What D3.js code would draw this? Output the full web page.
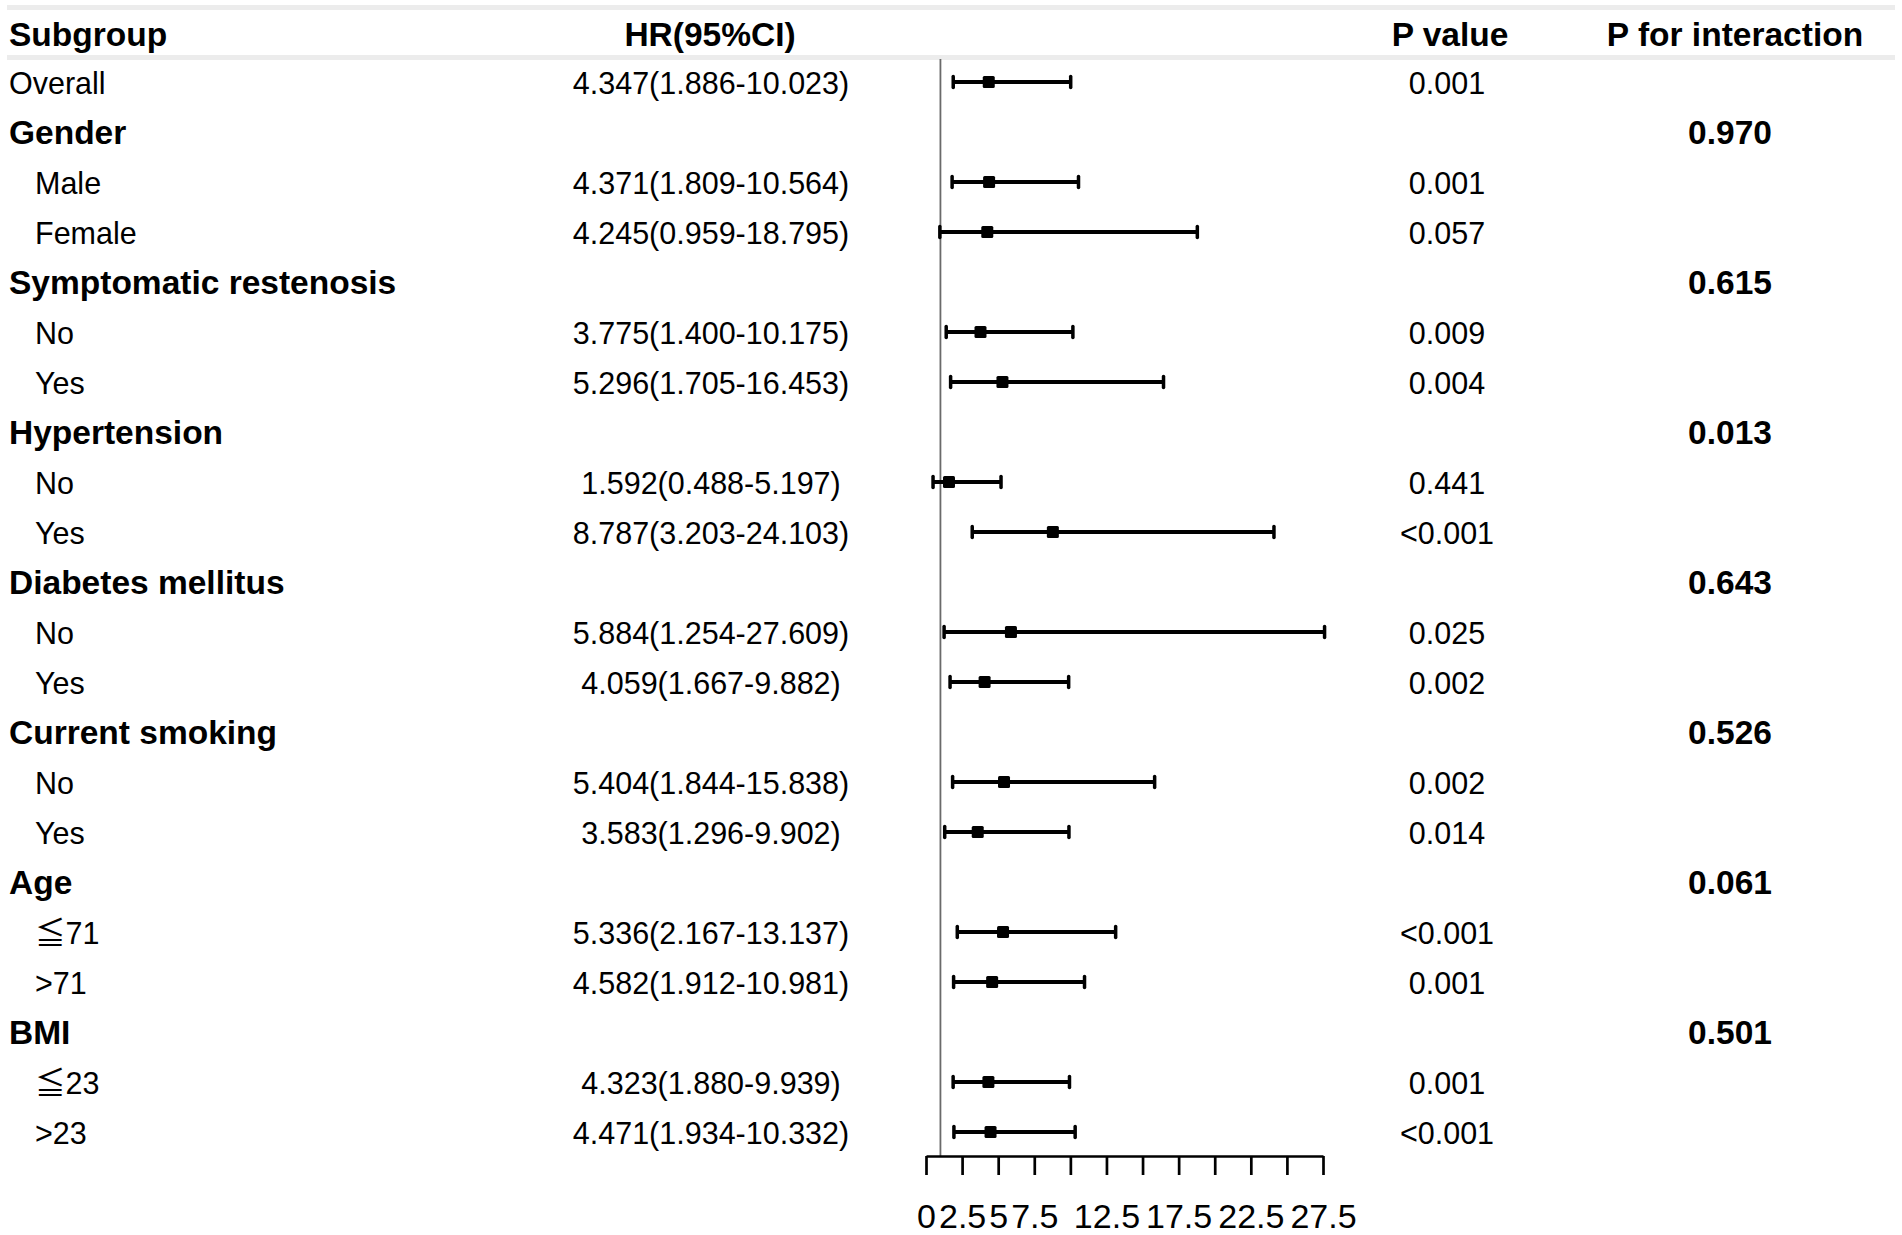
<!DOCTYPE html>
<html>
<head>
<meta charset="utf-8">
<script src="https://cdn.jsdelivr.net/npm/d3@7"></script>
<style>
  html, body { margin: 0; padding: 0; background: #fff; }
  svg { display: block; }
  text { font-family: "Liberation Sans", Arial, "Noto Sans CJK JP", sans-serif; fill: #000; }
</style>
</head>
<body>
<svg id="chart" width="1902" height="1235"></svg>
<script>
// ---------- data ----------
const subgroups = ["Overall","Gender","Male","Female","Symptomatic restenosis","No","Yes",
  "Hypertension","No","Yes","Diabetes mellitus","No","Yes","Current smoking","No","Yes",
  "Age","≦71",">71","BMI","≦23",">23"];
const isGroup = [false,true,false,false,true,false,false,true,false,false,true,false,false,
  true,false,false,true,false,false,true,false,false];
const hr = [4.347,null,4.371,4.245,null,3.775,5.296,null,1.592,8.787,null,5.884,4.059,null,
  5.404,3.583,null,5.336,4.582,null,4.323,4.471];
const lower = [1.886,null,1.809,0.959,null,1.400,1.705,null,0.488,3.203,null,1.254,1.667,null,
  1.844,1.296,null,2.167,1.912,null,1.880,1.934];
const upper = [10.023,null,10.564,18.795,null,10.175,16.453,null,5.197,24.103,null,27.609,9.882,null,
  15.838,9.902,null,13.137,10.981,null,9.939,10.332];
const pValue = ["0.001","","0.001","0.057","","0.009","0.004","","0.441","<0.001","","0.025","0.002","",
  "0.002","0.014","","<0.001","0.001","","0.001","<0.001"];
const pInteraction = ["","0.970","","","0.615","","","0.013","","","0.643","","","0.526","","","0.061","","","0.501","",""];
const headers = ["Subgroup","HR(95%CI)","P value","P for interaction"];
const tickValues = [0,2.5,5,7.5,10,12.5,15,17.5,20,22.5,25,27.5];
const tickLabelsShown = [0,2.5,5,7.5,12.5,17.5,22.5,27.5];
const refValue = 1;

// ---------- layout ----------
const svg = d3.select("#chart");
const rowY = d3.scaleLinear().domain([0, 1]).range([85, 135]); // row center
const x = d3.scaleLinear().domain([0, 27.5]).range([926, 1323]);
const axisY = 1156;
const colHR = 711, colP = 1447, colPI = 1730;
const fs = 30.5, fsBold = 33.5;
const baseOff = 9;

// header lines
[7.5, 57.5].forEach(yy => {
  svg.append("line").attr("x1", 7).attr("x2", 1895).attr("y1", yy).attr("y2", yy)
    .attr("stroke", "#ececec").attr("stroke-width", 5);
});

// header text
const hdrX = [9, 710, 1450, 1735];
const hdrAnchor = ["start","middle","middle","middle"];
headers.forEach((h, i) => {
  svg.append("text").attr("x", hdrX[i]).attr("y", 46)
    .attr("text-anchor", hdrAnchor[i]).attr("font-size", fsBold).attr("font-weight", "bold").text(h);
});

// rows
subgroups.forEach((s, i) => {
  const cy = rowY(i);
  svg.append("text")
    .attr("x", (isGroup[i] || i === 0) ? 9 : 35)
    .attr("y", cy + baseOff)
    .attr("font-size", isGroup[i] ? fsBold : fs)
    .attr("font-weight", isGroup[i] ? "bold" : "normal")
    .text(s);
  if (hr[i] != null) {
    svg.append("text").attr("x", colHR).attr("y", cy + baseOff).attr("text-anchor", "middle")
      .attr("font-size", fs)
      .text(`${hr[i].toFixed(3)}(${lower[i].toFixed(3)}-${upper[i].toFixed(3)})`);
  }
  if (pValue[i]) {
    svg.append("text").attr("x", colP).attr("y", cy + baseOff).attr("text-anchor", "middle")
      .attr("font-size", fs).text(pValue[i]);
  }
  if (pInteraction[i]) {
    svg.append("text").attr("x", colPI).attr("y", cy + baseOff).attr("text-anchor", "middle")
      .attr("font-size", fsBold).attr("font-weight", "bold").text(pInteraction[i]);
  }
});

// reference line
svg.append("line").attr("x1", x(refValue)).attr("x2", x(refValue))
  .attr("y1", 59).attr("y2", axisY).attr("stroke", "#6a6a6a").attr("stroke-width", 1.8);

// CI lines and points
const g = svg.append("g");
subgroups.forEach((s, i) => {
  if (hr[i] == null) return;
  const yy = rowY(i) - 3;
  g.append("line").attr("x1", x(lower[i])).attr("x2", x(upper[i]))
    .attr("y1", yy).attr("y2", yy).attr("stroke", "#000").attr("stroke-width", 4);
  [lower[i], upper[i]].forEach(v => {
    g.append("line").attr("x1", x(v)).attr("x2", x(v))
      .attr("y1", yy - 5.5).attr("y2", yy + 5.5)
      .attr("stroke", "#000").attr("stroke-width", 3.5).attr("stroke-linecap", "round");
  });
  g.append("rect").attr("x", x(hr[i]) - 6).attr("y", yy - 6).attr("width", 12).attr("height", 12)
    .attr("rx", 1.5).attr("fill", "#000");
});

// axis
const axis = d3.axisBottom(x).tickValues(tickValues).tickSize(19).tickSizeOuter(0)
  .tickPadding(12)
  .tickFormat(d => tickLabelsShown.includes(d) ? d3.format("")(d) : "");
const ag = svg.append("g").attr("transform", `translate(0,${axisY})`).call(axis);
ag.select(".domain").attr("stroke", "#000").attr("stroke-width", 2.7);
ag.selectAll(".tick line").attr("stroke", "#000").attr("stroke-width", 2.7);
ag.selectAll(".tick text").attr("font-size", 34).attr("font-family", "Liberation Sans, Arial, sans-serif")
  .attr("fill", "#000").attr("dy", null).attr("y", 72);
</script>
</body>
</html>
